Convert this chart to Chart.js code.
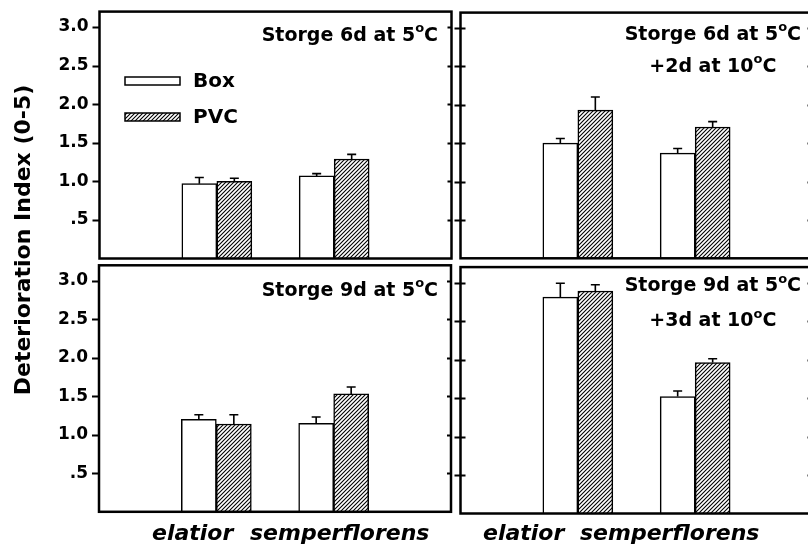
<!DOCTYPE html>
<html lang="en">
<head>
<meta charset="UTF-8">
<title>Deterioration Index</title>
<script src="https://cdn.jsdelivr.net/npm/chart.js"></script>
<style>
    body { margin: 0; background: #fff; overflow: hidden; width: 808px; height: 551px; position: relative; }
    canvas { position: absolute; left: 0; top: 0; }
</style>
</head>
<body>
<canvas id="p1" width="820" height="551"></canvas>
<canvas id="p2" width="820" height="551"></canvas>
<canvas id="p3" width="820" height="551"></canvas>
<canvas id="p4" width="820" height="551"></canvas>
<script>
// categories (blank slots at both ends keep the groups at 1/3 and 2/3)
const categories = ['', 'elatior', 'semperflorens', ''];
const seriesNames = ['Box', 'PVC'];
const yMax = 3.2;

// Storge 6d at 5C
const box6 = [null, 0.97, 1.07, null];
const pvc6 = [null, 1.00, 1.29, null];
const boxErr6 = [null, 0.08, 0.03, null];
const pvcErr6 = [null, 0.04, 0.06, null];

// Storge 6d at 5C +2d at 10C
const box6w = [null, 1.50, 1.37, null];
const pvc6w = [null, 1.93, 1.71, null];
const boxErr6w = [null, 0.06, 0.06, null];
const pvcErr6w = [null, 0.17, 0.07, null];

// Storge 9d at 5C
const box9 = [null, 1.20, 1.15, null];
const pvc9 = [null, 1.14, 1.53, null];
const boxErr9 = [null, 0.06, 0.08, null];
const pvcErr9 = [null, 0.12, 0.09, null];

// Storge 9d at 5C +3d at 10C
const box9w = [null, 2.81, 1.52, null];
const pvc9w = [null, 2.89, 1.96, null];
const boxErr9w = [null, 0.18, 0.07, null];
const pvcErr9w = [null, 0.08, 0.05, null];

const FONT = '"DejaVu Sans", sans-serif';

// diagonal hatch for PVC
function makeHatch() {
    const c = document.createElement('canvas');
    c.width = 4; c.height = 4;
    const g = c.getContext('2d');
    g.fillStyle = '#fff';
    g.fillRect(0, 0, 4, 4);
    g.strokeStyle = '#000';
    g.lineWidth = 1.1;
    g.beginPath();
    g.moveTo(-1, 5); g.lineTo(5, -1);
    g.moveTo(-1, 1); g.lineTo(1, -1);
    g.moveTo(3, 5); g.lineTo(5, 3);
    g.stroke();
    return g.createPattern(c, 'repeat');
}
const hatch = makeHatch();

// "Storge 6d at 5" + superscript o + "C"
function degText(ctx, pre, x, y, align) {
    ctx.font = 'bold 19px ' + FONT;
    const w1 = ctx.measureText(pre).width;
    const wc = ctx.measureText('C').width;
    ctx.font = 'bold 13px ' + FONT;
    const wo = ctx.measureText('o').width;
    const total = w1 + wo + wc;
    let sx = x;
    if (align === 'right') sx = x - total;
    if (align === 'center') sx = x - total / 2;
    ctx.textAlign = 'left';
    ctx.textBaseline = 'alphabetic';
    ctx.fillStyle = '#000';
    ctx.font = 'bold 19px ' + FONT;
    ctx.fillText(pre, sx, y);
    ctx.fillText('C', sx + w1 + wo, y);
    ctx.font = 'bold 13px ' + FONT;
    ctx.fillText('o', sx + w1, y - 8.5);
    return { left: sx, width: total };
}

const decor = {
    id: 'decor',
    afterDatasetsDraw(chart, args, opts) {
        const ctx = chart.ctx;
        const a = chart.chartArea;
        const y = chart.scales.y;
        ctx.save();

        // error bars (upper only)
        chart.data.datasets.forEach((ds, i) => {
            const meta = chart.getDatasetMeta(i);
            meta.data.forEach((bar, j) => {
                const v = ds.data[j];
                if (v == null) return;
                const top = y.getPixelForValue(v + ds.errors[j]);
                ctx.strokeStyle = '#000';
                ctx.lineWidth = 1.6;
                ctx.beginPath();
                ctx.moveTo(bar.x, bar.y);
                ctx.lineTo(bar.x, top);
                ctx.moveTo(bar.x - 4.5, top);
                ctx.lineTo(bar.x + 4.5, top);
                ctx.stroke();
            });
        });

        // frame
        ctx.strokeStyle = '#000';
        ctx.lineWidth = 2.5;
        ctx.strokeRect(a.left, a.top, a.right - a.left, a.bottom - a.top);

        // tick marks
        ctx.lineWidth = 2;
        y.ticks.forEach(t => {
            if (t.value <= 0) return;
            const py = Math.round(y.getPixelForValue(t.value)) + 0.5;
            ctx.beginPath();
            ctx.moveTo(a.left - opts.outL, py);
            ctx.lineTo(a.left + opts.inL, py);
            ctx.moveTo(a.right - opts.inR, py);
            ctx.lineTo(a.right, py);
            ctx.stroke();
        });

        // panel title
        const t1 = degText(ctx, opts.title[0], opts.titleX, opts.titleY[0], 'right');
        if (opts.title[1]) {
            degText(ctx, opts.title[1], t1.left + t1.width / 2, opts.titleY[1], 'center');
        }

        // legend
        if (opts.legend) {
            chart.data.datasets.forEach((ds, i) => {
                const ly = 77 + i * 36;
                ctx.fillStyle = ds.backgroundColor;
                ctx.fillRect(125, ly, 55, 8);
                ctx.strokeStyle = '#000';
                ctx.lineWidth = 1.5;
                ctx.strokeRect(125, ly, 55, 8);
                ctx.fillStyle = '#000';
                ctx.font = 'bold 20px ' + FONT;
                ctx.textAlign = 'left';
                ctx.textBaseline = 'middle';
                ctx.fillText(ds.label, 193, ly + 5);
            });
        }

        // category names under the bottom panels
        if (opts.catX) {
            ctx.fillStyle = '#000';
            ctx.font = 'italic bold 22px ' + FONT;
            ctx.textAlign = 'left';
            ctx.textBaseline = 'alphabetic';
            ctx.fillText(categories[1], opts.catX[0], 540);
            ctx.fillText(categories[2], opts.catX[1], 540);
        }

        // y axis title
        if (opts.yTitle) {
            ctx.translate(30, 240);
            ctx.rotate(-Math.PI / 2);
            ctx.fillStyle = '#000';
            ctx.font = 'bold 22px ' + FONT;
            ctx.textAlign = 'center';
            ctx.textBaseline = 'alphabetic';
            ctx.fillText(opts.yTitle, 0, 0);
        }
        ctx.restore();
    }
};

function makePanel(id, area, boxVals, pvcVals, boxErr, pvcErr, showLabels, decorOpts) {
    new Chart(document.getElementById(id), {
        type: 'bar',
        data: {
            labels: categories,
            datasets: [
                { label: seriesNames[0], data: boxVals, errors: boxErr, backgroundColor: '#ffffff',
                  borderColor: '#000', borderWidth: 1.5, barThickness: 35 },
                { label: seriesNames[1], data: pvcVals, errors: pvcErr, backgroundColor: hatch,
                  borderColor: '#000', borderWidth: 1.5, barThickness: 35 }
            ]
        },
        options: {
            responsive: false,
            animation: false,
            events: [],
            layout: { padding: { left: 0, top: area[1], right: 820 - area[2], bottom: 551 - area[3] } },
            plugins: { legend: { display: false }, tooltip: { enabled: false }, decor: decorOpts },
            scales: {
                x: { type: 'category', offset: false, display: false },
                y: {
                    min: 0, max: yMax,
                    // the y scale box spans from the canvas edge to the frame
                    afterFit(s) {
                        s.width = area[0];
                        s.paddingTop = 0;
                        s.paddingBottom = 0;
                    },
                    grid: { display: false, drawTicks: false },
                    border: { display: false },
                    ticks: {
                        display: showLabels,
                        stepSize: 0.5,
                        includeBounds: false,
                        padding: 11,
                        color: '#000',
                        font: { family: FONT, size: 17, weight: 'bold' },
                        callback: v => v === 0 ? '' : (v < 1 ? '.5' : v.toFixed(1))
                    }
                }
            }
        },
        plugins: [decor]
    });
}

makePanel('p1', [99.5, 11.6, 451.5, 258.5], box6, pvc6, boxErr6, pvcErr6, true,
    { outL: 7, inL: 0, inR: 4, title: ['Storge 6d at 5'], titleX: 438, titleY: [40.5],
      legend: true, yTitle: 'Deterioration Index (0-5)' });
makePanel('p2', [460.5, 12.6, 812.5, 258.3], box6w, pvc6w, boxErr6w, pvcErr6w, false,
    { outL: 6, inL: 5, inR: 5, title: ['Storge 6d at 5', '+2d at 10'], titleX: 801, titleY: [39.5, 71.5] });
makePanel('p3', [99, 265.3, 451, 511.8], box9, pvc9, boxErr9, pvcErr9, true,
    { outL: 7, inL: 0, inR: 4, title: ['Storge 9d at 5'], titleX: 438, titleY: [295.5],
      catX: [152, 250] });
makePanel('p4', [460.5, 267.1, 812.5, 513.5], box9w, pvc9w, boxErr9w, pvcErr9w, false,
    { outL: 6, inL: 5, inR: 5, title: ['Storge 9d at 5', '+3d at 10'], titleX: 801, titleY: [291, 326],
      catX: [483, 580] });
</script>
</body>
</html>
